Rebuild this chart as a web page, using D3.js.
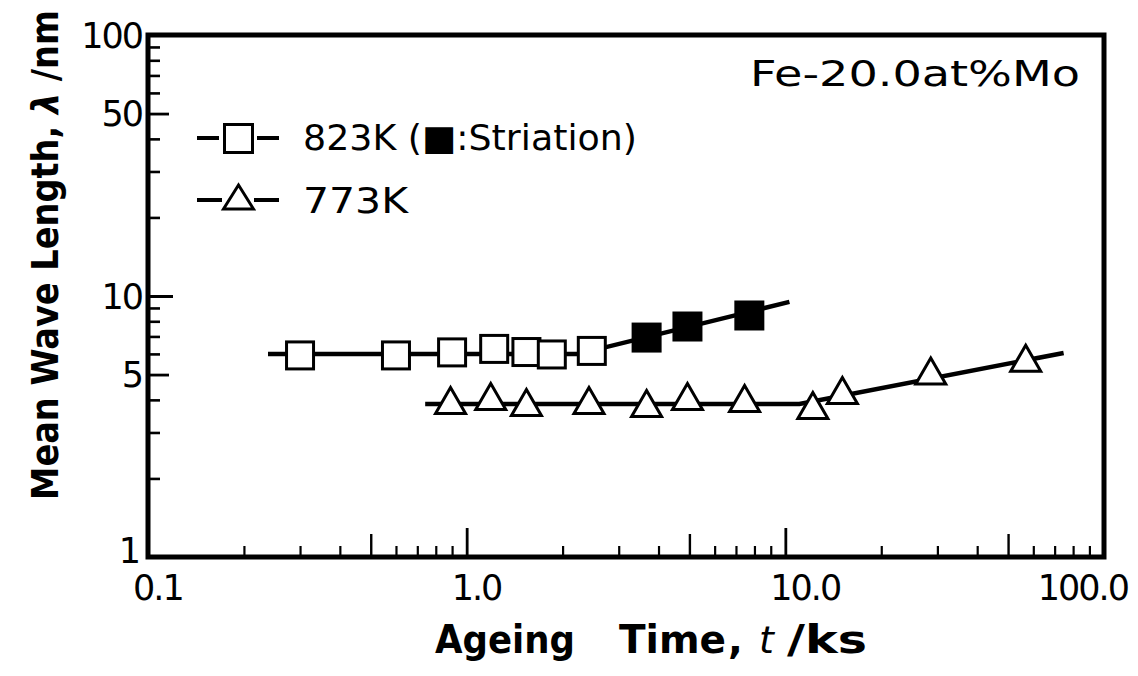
<!DOCTYPE html>
<html>
<head>
<meta charset="utf-8">
<script src="https://cdn.jsdelivr.net/npm/d3@7/dist/d3.min.js"></script>
<style>
  html, body { margin: 0; padding: 0; background: #fff; }
  svg { display: block; }
  text { font-family: "DejaVu Sans", sans-serif; fill: #000; }
</style>
</head>
<body>
<svg id="chart" width="1138" height="676"></svg>
<script>
// Ageing time (ks) and mean wave length (nm), 823 K series
const t823 = [0.30, 0.60, 0.90, 1.22, 1.54, 1.85, 2.47, 3.67, 4.93, 7.71];
const w823 = [5.92, 5.92, 6.08, 6.27, 6.10, 5.97, 6.16, 6.93, 7.64, 8.42];
const striation823 = [false, false, false, false, false, false, false, true, true, true];

// 773 K series
const t773 = [0.89, 1.19, 1.54, 2.42, 3.67, 4.93, 7.45, 12.2, 15.1, 28.6, 56.8];
const w773 = [3.98, 4.12, 3.91, 3.98, 3.87, 4.12, 4.05, 3.81, 4.34, 5.16, 5.78];

// Hand-drawn trend lines (knots in data units)
const fit823T = [0.238, 2.23, 10.3];
const fit823W = [5.99, 5.99, 9.49];
const fit773T = [0.741, 11.07, 74.7];
const fit773W = [3.86, 3.86, 6.05];

// Axis ticks and labels
const xMajor = [1, 10];
const xMid = [0.5, 5, 50];
const xMinor = [0.2, 0.3, 0.4, 0.6, 0.7, 0.8, 0.9, 2, 3, 4, 6, 7, 8, 9, 20, 30, 40, 60, 70, 80, 90];
const xLabelVals = [0.1, 1, 10, 100];
const xLabelText = ["0.1", "1.0", "10.0", "100.0"];
const yMajor = [10];
const yMid = [5, 50];
const yMinor = [2, 3, 4, 6, 7, 8, 9, 20, 30, 40, 60, 70, 80, 90];
const yLabelVals = [1, 5, 10, 50, 100];
const yLabelText = ["1", "5", "10", "50", "100"];

const svg = d3.select("#chart");
const L = 148, R = 1104, T = 35, B = 557;

const x = d3.scaleLog().domain([0.1, 100]).range([L, R]);
const y = d3.scaleLog().domain([1, 100]).range([B, T]);

// inward ticks on the bottom axis
function xTicks(vals, len, w) {
  const g = svg.append("g")
    .attr("transform", `translate(0,${B})`)
    .call(d3.axisBottom(x).tickValues(vals).tickSize(-len).tickFormat(""));
  g.select(".domain").remove();
  g.selectAll("line").attr("stroke", "#000").attr("stroke-width", w);
}
// inward ticks on the left axis
function yTicks(vals, len, w) {
  const g = svg.append("g")
    .attr("transform", `translate(${L},0)`)
    .call(d3.axisLeft(y).tickValues(vals).tickSize(-len).tickFormat(""));
  g.select(".domain").remove();
  g.selectAll("line").attr("stroke", "#000").attr("stroke-width", w);
}
xTicks(xMinor, 11, 2.2);
xTicks(xMid, 23, 2.4);
xTicks(xMajor, 29, 2.8);
yTicks(yMinor, 12, 2.6);
yTicks(yMid, 21, 2.8);
yTicks(yMajor, 25, 3);

// frame
svg.append("rect")
  .attr("x", L).attr("y", T).attr("width", R - L).attr("height", B - T)
  .attr("fill", "none").attr("stroke", "#000").attr("stroke-width", 5);

// tick labels
svg.append("g").selectAll("text").data(xLabelVals).join("text")
  .attr("x", (d, i) => i === xLabelVals.length - 1 ? x(d) + 24 : x(d) - 15)
  .attr("y", 600)
  .attr("text-anchor", (d, i) => i === xLabelVals.length - 1 ? "end" : "start")
  .attr("font-size", 35)
  .attr("letter-spacing", -2)
  .text((d, i) => xLabelText[i]);

svg.append("g").selectAll("text").data(yLabelVals).join("text")
  .attr("x", d => d === 1 ? 139 : 142)
  .attr("y", d => d === 1 ? y(d) - 7 : y(d))
  .attr("dy", "0.36em")
  .attr("text-anchor", "end")
  .attr("font-size", 35)
  .attr("letter-spacing", -2)
  .text((d, i) => yLabelText[i]);

// x axis title
const xt = svg.append("g").attr("font-size", 39).attr("font-weight", "bold");
xt.append("text").attr("x", 435).attr("y", 653)
  .attr("textLength", 140).attr("lengthAdjust", "spacingAndGlyphs").text("Ageing");
xt.append("text").attr("x", 619).attr("y", 653).text("Time");
xt.append("text").attr("x", 728).attr("y", 653).text(",");
xt.append("text").attr("x", 759).attr("y", 653)
  .attr("font-style", "italic").attr("font-weight", "normal").attr("font-size", 38).text("t");
xt.append("text").attr("x", 787).attr("y", 653)
  .attr("textLength", 80).attr("lengthAdjust", "spacingAndGlyphs").text("/ks");

// y axis title
svg.append("text")
  .attr("transform", "translate(58,255) rotate(-90)")
  .attr("text-anchor", "middle")
  .attr("font-size", 38).attr("font-weight", "bold")
  .attr("textLength", 490).attr("lengthAdjust", "spacingAndGlyphs")
  .html('Mean Wave Length, <tspan font-style="italic">λ</tspan> /nm');

// alloy annotation
svg.append("text")
  .attr("x", 750).attr("y", 86)
  .attr("font-size", 35)
  .attr("textLength", 330).attr("lengthAdjust", "spacingAndGlyphs")
  .text("Fe-20.0at%Mo");

// trend lines
const line = d3.line().x(d => x(d[0])).y(d => y(d[1]));
svg.append("path")
  .datum(fit823T.map((t, i) => [t, fit823W[i]]))
  .attr("d", line).attr("fill", "none").attr("stroke", "#000").attr("stroke-width", 4.5);
svg.append("path")
  .datum(fit773T.map((t, i) => [t, fit773W[i]]))
  .attr("d", line).attr("fill", "none").attr("stroke", "#000").attr("stroke-width", 4.5);

// markers
const SQ = 27;
svg.append("g").selectAll("rect").data(t823.map((t, i) => ({ t, w: w823[i], s: striation823[i] })))
  .join("rect")
  .attr("x", d => x(d.t) - SQ / 2).attr("y", d => y(d.w) - SQ / 2)
  .attr("width", SQ).attr("height", SQ)
  .attr("fill", d => d.s ? "#000" : "#fff")
  .attr("stroke", "#000").attr("stroke-width", 3);

const triPath = "M0,-13 L15,13 L-15,13 Z";
svg.append("g").selectAll("path").data(t773.map((t, i) => ({ t, w: w773[i] })))
  .join("path")
  .attr("transform", d => `translate(${x(d.t)},${y(d.w)})`)
  .attr("d", triPath)
  .attr("fill", "#fff").attr("stroke", "#000").attr("stroke-width", 3).attr("stroke-linejoin", "miter");

// legend
const lg = svg.append("g").attr("stroke", "#000");
[[197, 219], [257, 279]].forEach(([a, b]) =>
  lg.append("line").attr("x1", a).attr("x2", b).attr("y1", 138).attr("y2", 138).attr("stroke-width", 4));
lg.append("rect").attr("x", 224.5).attr("y", 124.5).attr("width", 28).attr("height", 28)
  .attr("fill", "#fff").attr("stroke-width", 3);
[[197, 222], [254, 279]].forEach(([a, b]) =>
  lg.append("line").attr("x1", a).attr("x2", b).attr("y1", 200).attr("y2", 200).attr("stroke-width", 4));
lg.append("path").attr("transform", "translate(238.5,197)").attr("d", "M0,-12 L15,12 L-15,12 Z")
  .attr("fill", "#fff").attr("stroke-width", 3);

svg.append("text").attr("x", 303).attr("y", 150).attr("font-size", 35)
  .attr("textLength", 334).attr("lengthAdjust", "spacingAndGlyphs")
  .text("823K (■:Striation)");
svg.append("text").attr("x", 303).attr("y", 213).attr("font-size", 35)
  .attr("textLength", 105).attr("lengthAdjust", "spacingAndGlyphs")
  .text("773K");
</script>
</body>
</html>
